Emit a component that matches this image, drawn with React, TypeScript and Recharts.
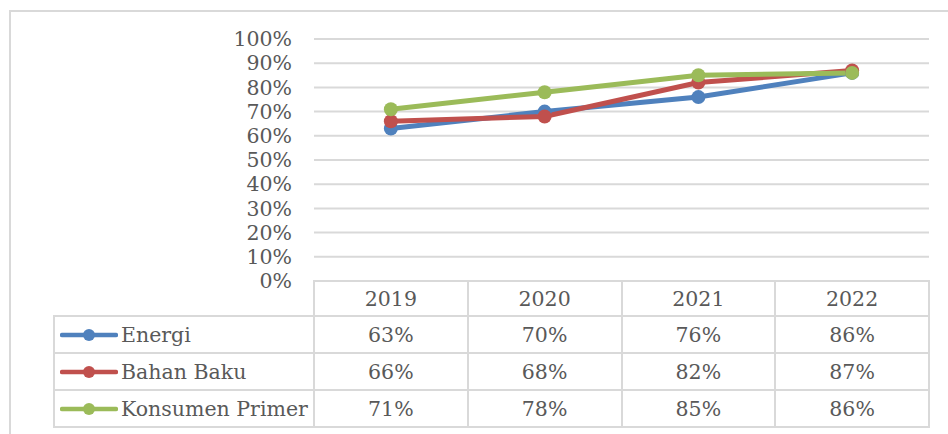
import React from "react";
import { LineChart, Line, XAxis, YAxis, CartesianGrid } from "recharts";

const years = ["2019", "2020", "2021", "2022"];
const energi = [0.63, 0.7, 0.76, 0.86];
const bahanBaku = [0.66, 0.68, 0.82, 0.87];
const konsumenPrimer = [0.71, 0.78, 0.85, 0.86];
const yTicks = [0, 0.1, 0.2, 0.3, 0.4, 0.5, 0.6, 0.7, 0.8, 0.9, 1];

const series = [
  { key: "energi", name: "Energi", values: energi, color: "#4f81bd" },
  { key: "bahanBaku", name: "Bahan Baku", values: bahanBaku, color: "#c0504d" },
  { key: "konsumenPrimer", name: "Konsumen Primer", values: konsumenPrimer, color: "#9bbb59" },
];

const data = years.map((y, i) => ({
  year: y,
  energi: energi[i],
  bahanBaku: bahanBaku[i],
  konsumenPrimer: konsumenPrimer[i],
}));

const W = 948;
const H = 434;
const plotLeft = 314;
const plotRight = 929;
const plotTop = 39;
const plotBottom = 281;
const colW = (plotRight - plotLeft) / years.length;
const legendLeft = 54;
const headerH = 35;
const rowH = 37;
const font = "'DejaVu Serif', serif";
const fontSize = 20.5;
const textColor = "#595959";
const border = "#d9d9d9";

const pct = (v: number) => Math.round(v * 100) + "%";

export default function App() {
  const cellStyle: React.CSSProperties = {
    position: "absolute",
    border: `2px solid ${border}`,
    boxSizing: "border-box",
    display: "flex",
    alignItems: "center",
    justifyContent: "center",
    fontFamily: font,
    fontSize: fontSize,
    color: textColor,
    whiteSpace: "nowrap",
  };

  const cells: React.ReactNode[] = [];
  years.forEach((y, i) => {
    cells.push(
      <div
        key={"h" + i}
        style={{
          ...cellStyle,
          left: plotLeft + i * colW - 1,
          top: plotBottom - 1,
          width: colW + 2,
          height: headerH + 2,
        }}
      >
        {y}
      </div>
    );
  });
  series.forEach((s, r) => {
    const top = plotBottom + headerH + r * rowH;
    cells.push(
      <div
        key={"l" + r}
        style={{
          ...cellStyle,
          left: legendLeft - 1,
          top: top - 1,
          width: plotLeft - legendLeft + 2,
          height: rowH + 2,
          justifyContent: "flex-start",
        }}
      >
        <svg width={58} height={14} style={{ marginLeft: 5, marginRight: 3, flex: "none" }}>
          <line x1={2} y1={7} x2={56} y2={7} stroke={s.color} strokeWidth={4.5} strokeLinecap="round" />
          <circle cx={29} cy={7} r={6} fill={s.color} />
        </svg>
        {s.name}
      </div>
    );
    s.values.forEach((v, i) => {
      cells.push(
        <div
          key={"c" + r + "-" + i}
          style={{
            ...cellStyle,
            left: plotLeft + i * colW - 1,
            top: top - 1,
            width: colW + 2,
            height: rowH + 2,
          }}
        >
          {pct(v)}
        </div>
      );
    });
  });

  return (
    <div style={{ position: "absolute", left: 0, top: 0, width: W, height: H, background: "#fff", overflow: "hidden" }}>
      <div
        style={{
          position: "absolute",
          left: 9,
          top: 10,
          width: W,
          height: H,
          borderLeft: `2px solid ${border}`,
          borderTop: `2px solid ${border}`,
        }}
      />
      <div style={{ position: "absolute", left: 0, top: 0 }}>
        <LineChart
          width={W}
          height={H}
          data={data}
          margin={{ top: plotTop, right: W - plotRight, bottom: H - plotBottom, left: plotLeft - 60 }}
        >
          <CartesianGrid vertical={false} stroke={border} strokeWidth={2} />
          <XAxis
            dataKey="year"
            hide
            padding={{ left: colW / 2, right: colW / 2 }}
          />
          <YAxis
            width={60}
            domain={[0, 1]}
            ticks={yTicks}
            interval={0}
            tickFormatter={pct}
            axisLine={false}
            tickLine={false}
            tickMargin={16}
            tick={{ fill: textColor, fontSize: fontSize, fontFamily: font }}
          />
          {series.map((s) => (
            <Line
              key={s.key}
              dataKey={s.key}
              name={s.name}
              stroke={s.color}
              strokeWidth={5}
              dot={{ r: 7, fill: s.color, stroke: s.color, strokeWidth: 0 }}
              activeDot={false}
              isAnimationActive={false}
            />
          ))}
        </LineChart>
      </div>
      {cells}
    </div>
  );
}
